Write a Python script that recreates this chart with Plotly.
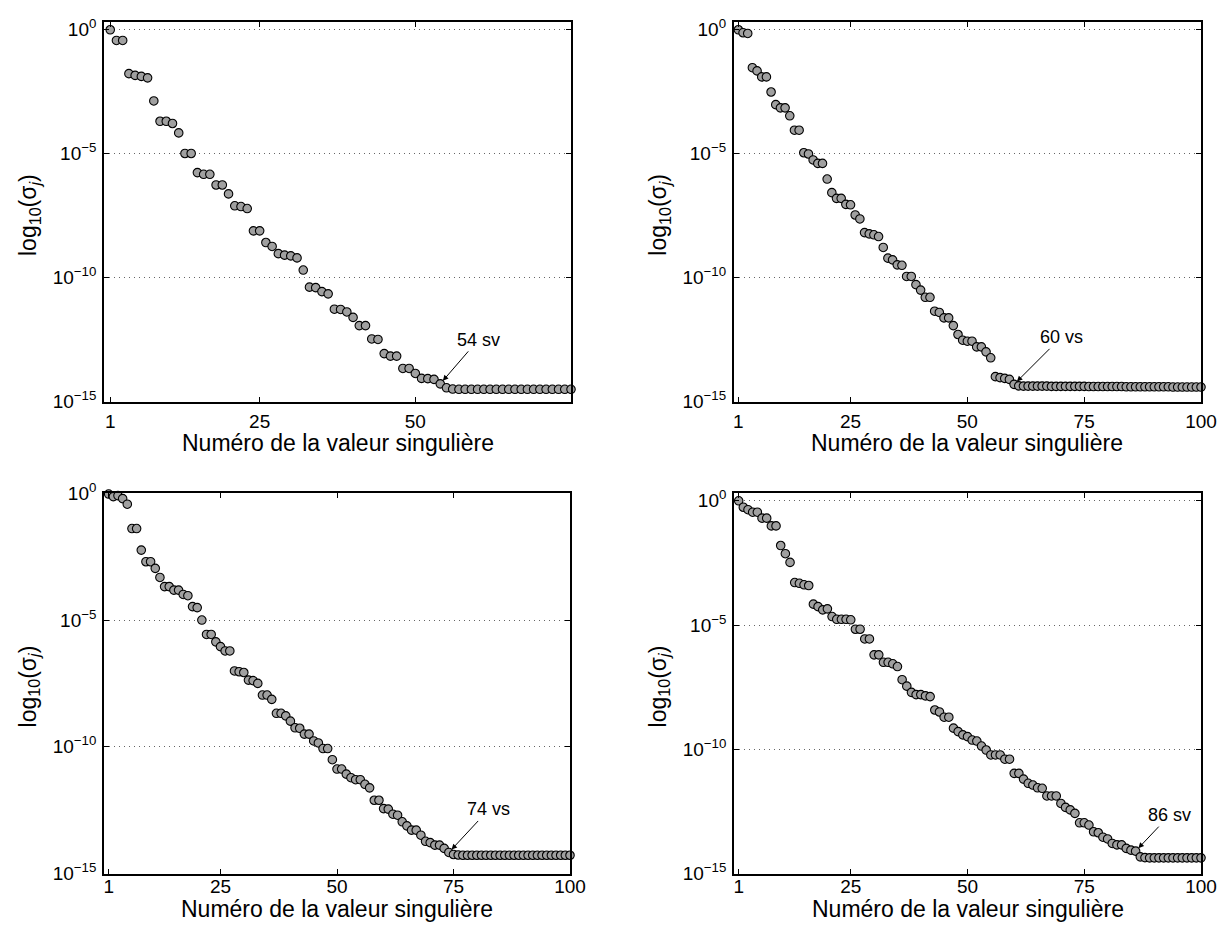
import plotly.graph_objects as go

# ---------------- data (log10 of singular values) ----------------
n1 = list(range(1, 76))
logsv1 = [0.00, -0.43, -0.43, -1.77, -1.84, -1.88, -1.94, -2.87, -3.69, -3.69,
          -3.78, -4.16, -4.99, -4.99, -5.76, -5.83, -5.83, -6.26, -6.26, -6.62,
          -7.10, -7.13, -7.21, -8.11, -8.11, -8.58, -8.74, -9.03, -9.09, -9.12,
          -9.20, -9.69, -10.38, -10.40, -10.56, -10.65, -11.27, -11.28, -11.38, -11.60,
          -11.93, -11.93, -12.47, -12.49, -13.06, -13.16, -13.16, -13.66, -13.66, -13.86,
          -14.06, -14.07, -14.10, -14.28, -14.44, -14.49, -14.50, -14.50, -14.50, -14.50,
          -14.50, -14.50, -14.50, -14.50, -14.50, -14.50, -14.50, -14.50, -14.50, -14.50,
          -14.50, -14.50, -14.50, -14.50, -14.50]

n2 = list(range(1, 101))
logsv2 = [0.00, -0.12, -0.15, -1.53, -1.66, -1.90, -1.90, -2.51, -3.02, -3.15,
          -3.15, -3.47, -4.05, -4.05, -4.96, -5.01, -5.25, -5.39, -5.39, -6.02,
          -6.57, -6.80, -6.80, -7.04, -7.06, -7.47, -7.63, -8.18, -8.23, -8.27,
          -8.34, -8.78, -9.21, -9.28, -9.48, -9.50, -9.95, -9.95, -10.28, -10.50,
          -10.79, -10.79, -11.35, -11.40, -11.62, -11.62, -11.93, -12.29, -12.52, -12.56,
          -12.56, -12.79, -12.79, -12.99, -13.23, -13.99, -14.03, -14.06, -14.10, -14.30,
          -14.36, -14.37, -14.37, -14.37, -14.37, -14.37, -14.37, -14.38, -14.38, -14.38,
          -14.38, -14.38, -14.38, -14.38, -14.38, -14.39, -14.39, -14.39, -14.39, -14.39,
          -14.39, -14.39, -14.39, -14.40, -14.40, -14.40, -14.40, -14.40, -14.40, -14.40,
          -14.40, -14.40, -14.40, -14.41, -14.41, -14.41, -14.41, -14.41, -14.41, -14.41]

n3 = list(range(1, 101))
logsv3 = [-0.03, -0.13, -0.09, -0.21, -0.43, -1.39, -1.39, -2.24, -2.70, -2.70,
          -2.96, -3.32, -3.68, -3.68, -3.82, -3.82, -3.99, -4.04, -4.47, -4.51,
          -5.00, -5.57, -5.57, -5.86, -6.05, -6.22, -6.22, -7.01, -7.04, -7.07,
          -7.37, -7.39, -7.50, -7.96, -7.96, -8.13, -8.68, -8.68, -8.78, -8.99,
          -9.25, -9.27, -9.50, -9.50, -9.77, -9.85, -10.07, -10.07, -10.51, -10.88,
          -10.88, -11.08, -11.22, -11.30, -11.30, -11.48, -11.62, -12.11, -12.11, -12.44,
          -12.46, -12.66, -12.70, -12.96, -13.12, -13.29, -13.29, -13.49, -13.73, -13.78,
          -13.88, -13.88, -14.01, -14.17, -14.25, -14.27, -14.28, -14.28, -14.28, -14.28,
          -14.28, -14.28, -14.28, -14.28, -14.28, -14.28, -14.28, -14.28, -14.28, -14.28,
          -14.28, -14.28, -14.28, -14.28, -14.28, -14.28, -14.28, -14.28, -14.28, -14.28]

n4 = list(range(1, 101))
logsv4 = [0.00, -0.26, -0.36, -0.46, -0.46, -0.70, -0.70, -1.01, -1.01, -1.80,
          -2.13, -2.48, -3.29, -3.32, -3.38, -3.41, -4.16, -4.26, -4.39, -4.35,
          -4.66, -4.77, -4.77, -4.77, -4.79, -5.17, -5.17, -5.56, -5.56, -6.20,
          -6.20, -6.50, -6.50, -6.56, -6.67, -7.20, -7.46, -7.71, -7.80, -7.80,
          -7.85, -7.88, -8.42, -8.50, -8.71, -8.71, -9.15, -9.29, -9.42, -9.49,
          -9.63, -9.67, -9.87, -10.03, -10.23, -10.23, -10.23, -10.40, -10.40, -10.97,
          -10.97, -11.20, -11.37, -11.44, -11.55, -11.57, -11.88, -11.88, -11.88, -12.18,
          -12.34, -12.44, -12.58, -12.96, -12.96, -13.05, -13.32, -13.36, -13.54, -13.61,
          -13.79, -13.85, -13.85, -13.99, -14.06, -14.10, -14.33, -14.36, -14.37, -14.37,
          -14.37, -14.37, -14.37, -14.37, -14.37, -14.37, -14.37, -14.37, -14.37, -14.37]

cutoffs = [54, 60, 74, 86]
cutoff_labels = ["54 sv", "60 vs", "74 vs", "86 sv"]

xtick_vals1 = [1, 25, 50]
xtick_vals = [1, 25, 50, 75, 100]
ytick_vals = [1e-15, 1e-10, 1e-5, 1]
ytick_text = ["10<sup>\u221215</sup>", "10<sup>\u221210</sup>", "10<sup>\u22125</sup>", "10<sup>0</sup>"]

x_label = "Numéro de la valeur singulière"
y_label = "log<sub>10</sub>(\u03c3<sub><i>j</i></sub>)"

# ---------------- layout geometry ----------------
W, H = 1220, 925
FONT = "Liberation Sans, Arial, Helvetica, sans-serif"

# pixel boxes of the four axes: (left, right, top, bottom)
boxes = [
    (104, 571, 22.3, 401.7),
    (733.7, 1201, 22.3, 401.7),
    (104, 570, 493.3, 873.5),
    (734, 1201, 493.3, 873.5),
]
xranges = [[0, 75], [0, 100], [0, 100], [0, 100]]
yranges = [[-15, 0.301], [-15, 0.301], [-15, 0.0], [-15, 0.301]]
xticks_all = [xtick_vals1, xtick_vals, xtick_vals, xtick_vals]
standoffs = [2, 2, -5, -5]
xlabel_gap = [41, 41, 35, 35]
arrow_offsets = [(38, -44), (47, -47), (40, -43), (34, -36)]

series = [(n1, logsv1), (n2, logsv2), (n3, logsv3), (n4, logsv4)]


def px(xp):
    return xp / W


def py(yp):
    return 1 - yp / H


fig = go.Figure()
layout = dict(
    width=W, height=H, autosize=False,
    margin=dict(l=0, r=0, t=0, b=0, pad=0),
    paper_bgcolor="white", plot_bgcolor="white",
    showlegend=False,
    font=dict(family=FONT, size=19, color="black"),
)
annotations = []

for i, ((n, lv), box) in enumerate(zip(series, boxes)):
    k = "" if i == 0 else str(i + 1)
    left, right, top, bottom = box
    xd = [px(left), px(right)]
    yd = [py(bottom), py(top)]
    fig.add_trace(go.Scatter(
        x=n, y=[10 ** v for v in lv], mode="markers",
        marker=dict(symbol="circle", size=8.5, color="#a0a0a0",
                    line=dict(color="black", width=1.1)),
        cliponaxis=False,
        xaxis="x" + k, yaxis="y" + k,
    ))
    layout["xaxis" + k] = dict(
        domain=xd, range=xranges[i], anchor="y" + k, automargin=False,
        tickmode="array", tickvals=xticks_all[i], ticktext=[str(t) for t in xticks_all[i]],
        ticks="inside", ticklen=5, tickwidth=1, tickcolor="black",
        showline=True, linecolor="black", linewidth=1.6, mirror="ticks",
        showgrid=False, zeroline=False,
        tickfont=dict(family=FONT, size=19, color="black"),
        ticklabelstandoff=standoffs[i],
    )
    layout["yaxis" + k] = dict(
        domain=yd, type="log", range=yranges[i], anchor="x" + k, automargin=False,
        tickmode="array", tickvals=ytick_vals, ticktext=ytick_text,
        ticks="inside", ticklen=5, tickwidth=1, tickcolor="black",
        showline=True, linecolor="black", linewidth=1.6, mirror="ticks",
        showgrid=True, gridcolor="#666666", gridwidth=1, griddash="1px,4px",
        zeroline=False,
        tickfont=dict(family=FONT, size=19, color="black"),
        ticklabelstandoff=2,
    )
    # axis titles
    annotations.append(dict(
        text=x_label, xref="paper", yref="paper",
        x=px((left + right) / 2), y=py(bottom + xlabel_gap[i]),
        xanchor="center", yanchor="middle", showarrow=False,
        font=dict(family=FONT, size=23, color="black"),
    ))
    annotations.append(dict(
        text=y_label, xref="paper", yref="paper",
        x=px(left - 75), y=py((top + bottom) / 2 + 3),
        xanchor="center", yanchor="middle", showarrow=False, textangle=-90,
        font=dict(family=FONT, size=23, color="black"),
    ))
    # cutoff annotation with arrow
    c = cutoffs[i]
    ax, ay = arrow_offsets[i]
    annotations.append(dict(
        text=cutoff_labels[i], xref="x" + k, yref="y" + k,
        x=c, y=lv[c - 1],
        showarrow=True, arrowhead=2, arrowsize=1.1, arrowwidth=1, arrowcolor="black",
        standoff=4, ax=ax, ay=ay,
        font=dict(family=FONT, size=18, color="black"),
    ))

layout["annotations"] = annotations
fig.update_layout(**layout)
# remove the default 8px page margin so the 1220x925 figure fills the window exactly
fig.write_html(
    "out.html",
    config={"displayModeBar": False},
    post_script="document.body.style.margin='0px';document.body.style.overflow='hidden';",
)
